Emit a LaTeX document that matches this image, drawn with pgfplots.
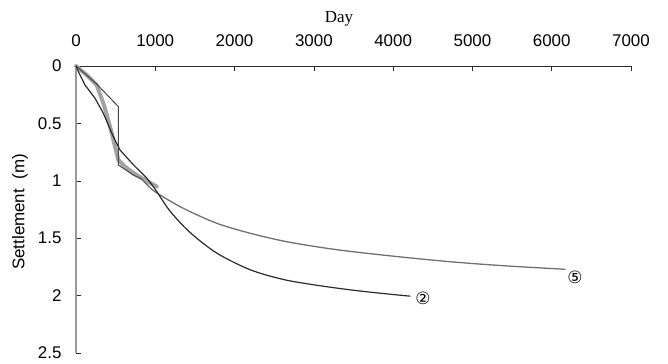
\documentclass[border=0pt]{standalone}
\usepackage{pgfplots}
\pgfplotsset{compat=1.18}
\usepackage{fontspec}
\setmainfont{Liberation Sans}
\newfontfamily\seriffont{Liberation Serif}
\newfontfamily\djv{DejaVu Sans}
\definecolor{darkc}{HTML}{2B2B2B}
\definecolor{stepc}{HTML}{454545}
\definecolor{midgray}{HTML}{707070}
\definecolor{lightg}{HTML}{A3A3A3}
\definecolor{axgray}{HTML}{999999}
\begin{document}
\begin{tikzpicture}
\begin{axis}[
  at={(0,0)}, anchor=north west,
  scale only axis, width=555bp, height=287bp,
  xmin=0, xmax=7000, ymin=0, ymax=2.5, y dir=reverse,
  axis x line=top, axis y line=left,
  x axis line style={-, draw=darkc, line width=0.8bp},
  y axis line style={-, draw=axgray, line width=1.5bp},
  xtick={0,1000,...,7000}, ytick={0,0.5,1,1.5,2,2.5},
  tick align=inside, major tick length=5bp,
  tick style={draw=darkc, line width=0.6bp},
  /pgf/number format/assume math mode=true,
  /pgf/number format/1000 sep={},
  tick label style={font=\fontsize{17}{19}\selectfont},
  xticklabel style={anchor=base, yshift=20bp},
  yticklabel style={xshift=-11bp},
  clip=false,
]
% measured data (thick light gray)
\addplot[lightg, line width=4bp, line join=round, line cap=round] coordinates {
  (0,0) (60,0.035) (135,0.078) (261,0.166) (300,0.24) (345,0.325) (390,0.43)
  (429,0.528) (460,0.61) (492,0.703) (534,0.819) (619,0.877) (690,0.915)
  (766,0.95) (871,0.993) (940,1.02) (1019,1.05)
};
% step line
\addplot[stepc, line width=1bp] coordinates {
  (0,0) (261,0.157) (534,0.354) (534,0.862) (723,0.95) (829,0.985)
};
% curve 5
\addplot[midgray, line width=1.3bp, smooth] coordinates {
  (829,0.985) (997,1.095) (1355,1.24) (1776,1.37) (2197,1.457) (2618,1.525)
  (3039,1.575) (3460,1.615) (4091,1.663) (4722,1.705) (5354,1.738) (6174,1.771)
};
% curve 2, early part
\addplot[darkc, line width=1.2bp, line join=round] coordinates {
  (0,0) (40,0.065) (72,0.107) (114,0.166) (240,0.281) (345,0.412) (471,0.616)
  (556,0.732) (723,0.86) (892,0.975)
};
% curve 2, later part
\addplot[darkc, line width=1.2bp, smooth] coordinates {
  (892,0.975) (1000,1.075) (1187,1.265) (1439,1.45) (1776,1.63) (2197,1.775)
  (2618,1.86) (3039,1.91) (3460,1.95) (3850,1.98) (4217,2.005)
};
\node[font=\djv\fontsize{17}{18}\selectfont] at (axis cs:4377,2.021) {②};
\node[font=\djv\fontsize{17}{18}\selectfont] at (axis cs:6293,1.838) {⑤};
\end{axis}
\node[font=\seriffont\fontsize{17}{19}\selectfont] at (263bp,47bp) {Day};
\node[rotate=90, font=\fontsize{17}{19}\selectfont] at (-56bp,-146bp) {Settlement\ \ (m)};
\pgfresetboundingbox
\path[use as bounding box] (-76bp,66bp) rectangle (592bp,-298bp);
\end{tikzpicture}
\end{document}
